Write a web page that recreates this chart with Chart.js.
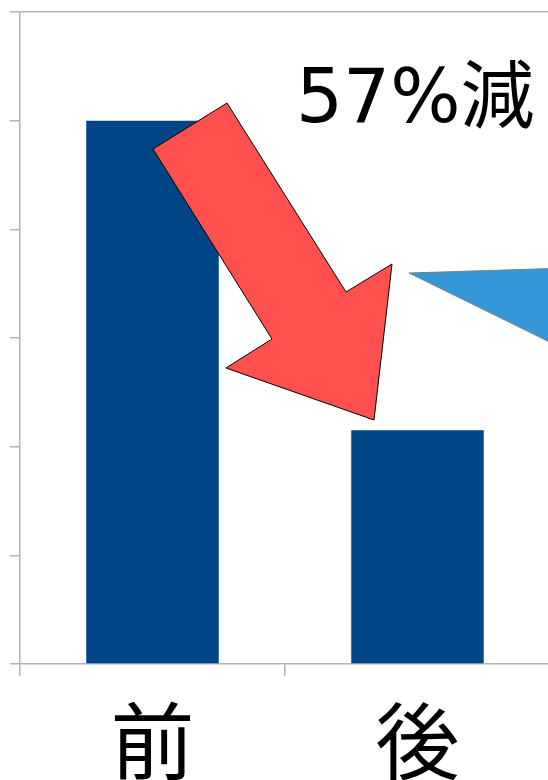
<!DOCTYPE html>
<html>
<head>
<meta charset="utf-8">
<script src="https://cdn.jsdelivr.net/npm/chart.js@4/dist/chart.umd.min.js"></script>
<style>
  html, body { margin: 0; padding: 0; background: #fff; overflow: hidden; }
  #wrap { position: relative; width: 550px; height: 819px; }
</style>
</head>
<body>
<div id="wrap"><canvas id="chart"></canvas></div>
<script>
const LABELS = ['前', '後'];
const VALUES = [100, 43];
const Y_MAX = 120;
const Y_STEP = 20;

const BAR_COLOR = '#004586';
const AXIS_COLOR = '#b3b3b3';

// reduction between the two bars, shown as the headline text
const reduction = Math.round((1 - VALUES[1] / VALUES[0]) * 100);
const CALLOUT = reduction + '%減';

// decorative shapes, in canvas pixels
const RED_ARROW = [
  [153, 149], [227, 103], [346, 292], [392, 264],
  [374, 420], [226, 368], [272, 339]
];
const BLUE_WEDGE = [[409, 273], [570, 268], [570, 352]];

function poly(ctx, pts, fill, stroke, lw) {
  ctx.beginPath();
  pts.forEach(([x, y], i) => (i ? ctx.lineTo(x, y) : ctx.moveTo(x, y)));
  ctx.closePath();
  ctx.fillStyle = fill;
  ctx.fill();
  ctx.lineWidth = lw;
  ctx.strokeStyle = stroke;
  ctx.stroke();
}

const decorations = {
  id: 'decorations',
  afterDraw(chart) {
    const ctx = chart.ctx;
    ctx.save();
    ctx.lineJoin = 'miter';
    poly(ctx, RED_ARROW, '#ff5050', '#000', 1);
    poly(ctx, BLUE_WEDGE, '#3498d8', '#808080', 1);
    ctx.fillStyle = '#000';
    ctx.font = '74px "DejaVu Sans", "Noto Sans CJK JP", sans-serif';
    ctx.textBaseline = 'alphabetic';
    ctx.textAlign = 'left';
    ctx.fillText(CALLOUT, 296, 122);
    ctx.restore();
  }
};

new Chart(document.getElementById('chart'), {
  type: 'bar',
  data: {
    labels: LABELS,
    datasets: [{
      data: VALUES,
      backgroundColor: BAR_COLOR,
      borderWidth: 0,
      barPercentage: 0.5,
      categoryPercentage: 1
    }]
  },
  options: {
    responsive: true,
    maintainAspectRatio: false,
    animation: false,
    layout: { padding: { top: 12, left: 10, right: 0, bottom: 13 } },
    plugins: { legend: { display: false }, tooltip: { enabled: false } },
    scales: {
      x: {
        offset: true,
        grid: {
          offset: true,
          drawOnChartArea: false,
          tickLength: 12,
          tickColor: AXIS_COLOR,
          lineWidth: 1.5
        },
        border: { color: AXIS_COLOR, width: 1.5 },
        ticks: {
          color: '#000',
          padding: 23,
          font: { family: '"Noto Sans CJK JP", sans-serif', size: 84, lineHeight: 1 }
        }
      },
      y: {
        min: 0,
        max: Y_MAX,
        ticks: { display: false, stepSize: Y_STEP },
        grid: {
          tickLength: 10,
          tickColor: AXIS_COLOR,
          lineWidth: 1.5,
          color: (c) => (c.tick && c.tick.value === Y_MAX ? AXIS_COLOR : 'rgba(0,0,0,0)')
        },
        border: { color: AXIS_COLOR, width: 1.5 }
      }
    }
  },
  plugins: [decorations]
});
</script>
</body>
</html>
